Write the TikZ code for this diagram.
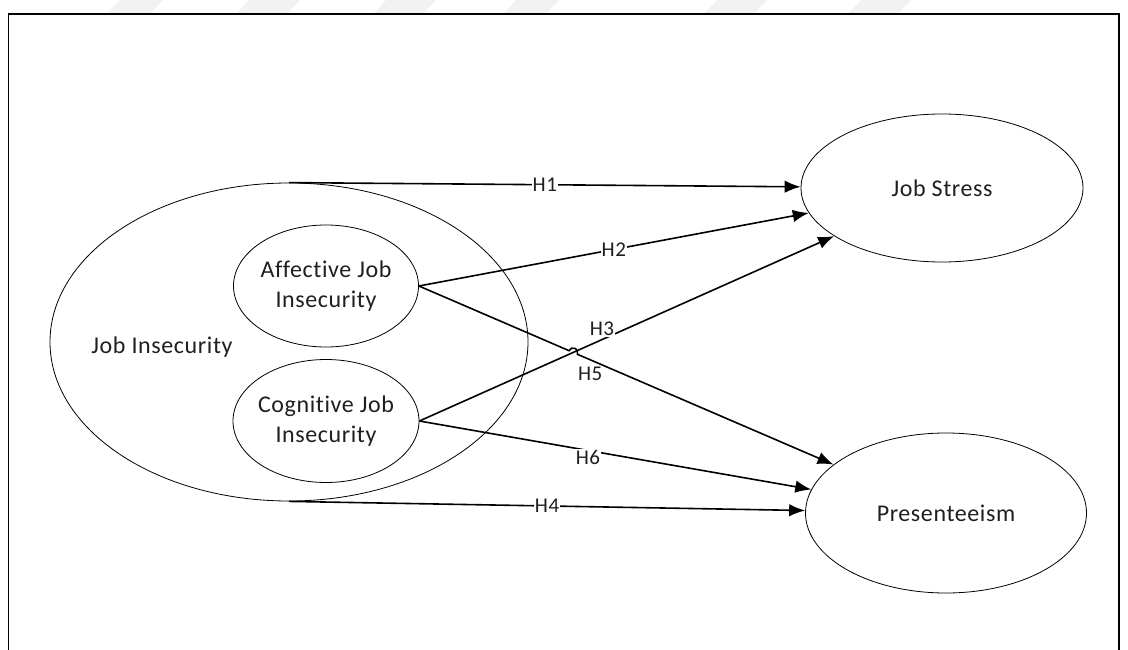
\documentclass[tikz,border=0pt]{standalone}
\usepackage{fontspec}
\setmainfont{Carlito}[LetterSpace=2.5, Ligatures=NoCommon, RawFeature=-liga]
\usetikzlibrary{arrows.meta,calc,shapes.geometric}
\begin{document}
\begin{tikzpicture}[x=1pt,y=-1pt,
  bubble/.style={draw, ellipse, line width=0.8pt, inner sep=0pt},
  nodetext/.style={font=\fontsize{24}{30}\selectfont, align=center, inner sep=0pt, text=black!88},
  link/.style={line width=1.6pt, -{Latex[length=16pt,width=12.5pt]}},
  hlabel/.style={fill=white, inner sep=1pt, font=\fontsize{21}{25}\selectfont, text=black!88},
  band/.style={fill=black!5, draw=none}]
\useasboundingbox (0,0) rectangle (1128,650);

% faint slanted bands along the top edge
\foreach \a/\b in {108/151, 237/288, 374/424, 504/547, 705/755, 849/899}
  \path[band] (\a,13) -- (\b,13) -- (\b+12,0) -- (\a+12,0) -- cycle;

% outer frame (open at the bottom)
\draw[line width=1.3pt] (8.5,650) -- (8.5,14) -- (1119,14) -- (1119,650);

% constructs
\node[bubble, minimum width=478pt, minimum height=318pt] (ji) at (289,342) {};
\node[nodetext] (jit) at (162,347) {Job Insecurity};
\node[bubble, minimum width=185pt, minimum height=122pt] (aff) at (326,286) {};
\node[nodetext] (afft) at (aff.center) {Affective Job\\Insecurity};
\node[bubble, minimum width=186pt, minimum height=123pt] (cog) at (326,421) {};
\node[nodetext] (cogt) at (cog.center) {Cognitive Job\\Insecurity};
\node[bubble, minimum width=282pt, minimum height=148pt] (js) at (942,188) {};
\node[nodetext] (jst) at (js.center) {Job Stress};
\node[bubble, minimum width=281pt, minimum height=160pt] (pres) at (946,513) {};
\node[nodetext] (prest) at (pres.center) {Presenteeism};

% hypotheses
\draw[link] (ji.north) -- node[hlabel] (h1) {H1} (js);
\draw[link] (aff.east) -- node[hlabel] (h2) {H2} (js);
\draw[link] (cog.east) -- node[hlabel, pos=0.44, yshift=11pt] (h3) {H3} (js);
\draw[link] (ji.south) -- node[hlabel] (h4) {H4} (pres);
\draw[link] (cog.east) -- node[hlabel, pos=0.43, yshift=-7pt] (h6) {H6} (pres);

% H5 jumps over H3 where the two cross
\coordinate (cross) at (intersection of aff.east--pres.center and cog.east--js.center);
\draw[link] (aff.east) -- ($(cross)!4.5pt!(aff.east)$)
  arc[start angle=203.3, end angle=383.3, radius=4.5]
  -- node[hlabel, pos=0.05, yshift=-14pt] (h5) {H5} (pres);
\end{tikzpicture}
\end{document}
